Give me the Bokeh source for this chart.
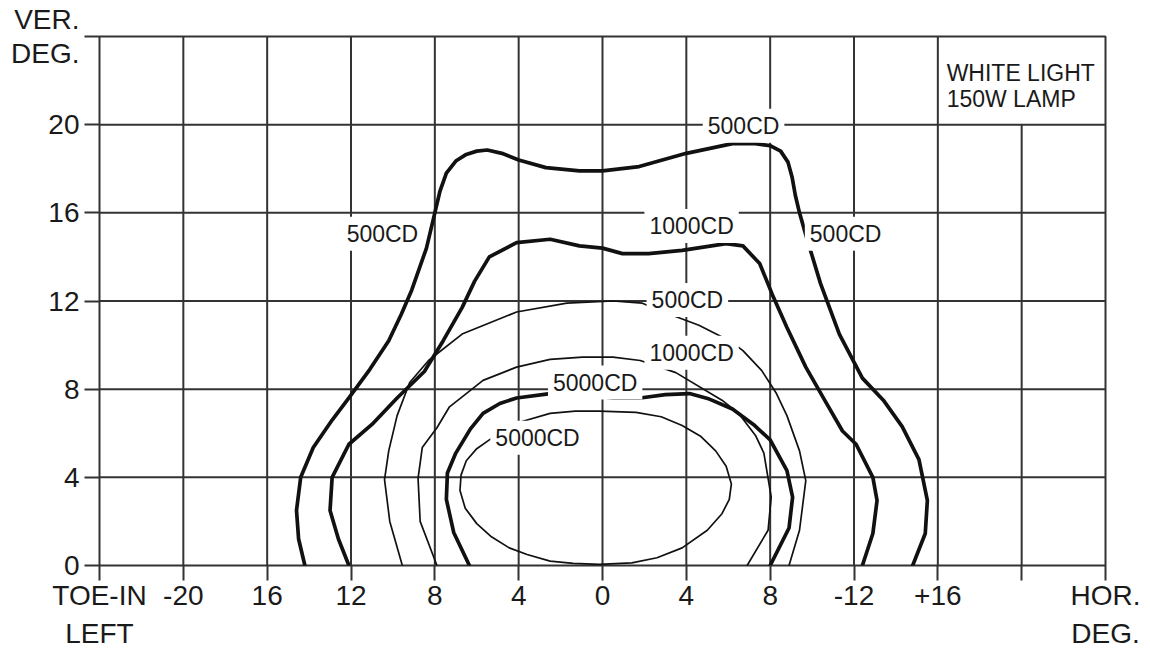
from bokeh.plotting import figure
from bokeh.models import Range1d, FixedTicker, ColumnDataSource
from bokeh.core.properties import value
from bokeh.embed import file_html
from bokeh.resources import INLINE

FONT = "Liberation Sans"
INK = "#1a1a1a"
GRID = "#333333"

# ---- axes / grid -------------------------------------------------------
grid_x = [-24, -20, -16, -12, -8, -4, 0, 4, 8, 12, 16, 20, 24]
x_tick_labels = ["TOE-IN\nLEFT", "-20", "16", "12", "8", "4", "0", "4", "8", "-12", "+16", "",
                 "HOR.\nDEG."]
grid_y = [0, 4, 8, 12, 16, 20, 24]
y_tick_labels = ["0", "4", "8", "12", "16", "20", "VER.\nDEG."]
# top of each interior vertical grid line (the note box has no divider)
vgrid_top = [24, 24, 24, 24, 24, 24, 24, 24, 24, 24, 20]

# ---- contours (horizontal deg, vertical deg) ---------------------------
outer500_x = [-14.2, -14.5, -14.6, -14.4, -13.8, -12.9, -12.1, -11.1, -10.2, -9.6, -9.1, -8.4,
              -8.0, -7.75, -7.45, -7.0, -6.5, -6.0, -5.5, -4.8, -4.0, -2.7, -1.1, 0.0, 1.75,
              4.0, 6.2, 7.2, 8.0, 8.5, 8.85, 9.05, 9.2, 9.4, 9.7, 10.4, 11.3, 12.4, 13.4, 14.3,
              15.1, 15.5, 15.4, 14.8]
outer500_y = [0.0, 1.2, 2.5, 4.0, 5.35, 6.6, 7.6, 8.9, 10.2, 11.4, 12.5, 14.4,
              16.0, 17.0, 17.8, 18.35, 18.65, 18.8, 18.85, 18.7, 18.4, 18.05, 17.9, 17.9, 18.1,
              18.7, 19.14, 19.15, 19.05, 18.8, 18.3, 17.6, 16.8, 16.0, 15.0, 12.8, 10.5, 8.5, 7.5, 6.3,
              4.8, 2.95, 1.45, 0.0]

thick1000_x = [-12.1, -12.6, -13.0, -12.9, -12.1, -11.0, -9.8, -8.5, -7.6, -6.7, -6.1, -5.4,
               -4.1, -2.5, -1.1, 0.0, 0.95, 2.2, 3.8, 5.9, 6.7, 7.5, 8.1, 8.8, 9.7, 10.6,
               11.45, 12.1, 12.9, 13.1, 12.9, 12.4]
thick1000_y = [0.0, 1.2, 2.5, 4.0, 5.5, 6.4, 7.6, 8.8, 10.2, 11.7, 12.9, 14.0,
               14.65, 14.8, 14.5, 14.4, 14.15, 14.15, 14.3, 14.6, 14.5, 13.7, 12.3, 10.8, 9.0, 7.5,
               6.1, 5.5, 4.0, 2.95, 1.45, 0.0]

thin500_x = [-9.55, -10.15, -10.4, -10.2, -9.8, -9.2, -8.3, -6.7, -4.1, -1.7, 0.5, 1.9, 3.2,
             4.6, 6.06, 6.7, 7.6, 8.3, 8.8, 9.4, 9.7, 9.4, 8.9]
thin500_y = [0.0, 2.0, 3.9, 5.2, 6.8, 8.3, 9.3, 10.5, 11.5, 11.9, 12.0, 11.9, 11.4,
             10.9, 10.2, 9.75, 8.84, 7.8, 6.8, 5.2, 3.85, 1.6, 0.0]

thin1000_x = [-7.9, -8.7, -8.8, -8.6, -7.9, -7.3, -5.7, -4.1, -2.5, -0.95, 0.5, 1.8,
              3.5, 5.7, 6.5, 7.3, 7.7, 8.05, 7.9, 6.9]
thin1000_y = [0.0, 2.0, 3.95, 5.35, 6.25, 7.2, 8.4, 9.0, 9.35, 9.45, 9.45, 9.3,
              8.75, 7.5, 6.9, 5.9, 5.1, 3.1, 1.6, 0.0]

thick5000_x = [-6.35, -7.1, -7.45, -7.4, -7.0, -6.3, -5.7, -4.9, -4.1, -2.5, -1.0, 0.5,
               1.8, 3.0, 4.15, 5.1, 6.2, 7.2, 8.0, 8.8, 9.07, 8.9, 8.0]
thick5000_y = [0.0, 1.5, 3.0, 4.2, 5.1, 6.2, 6.9, 7.35, 7.6, 7.8, 7.75, 7.6,
               7.6, 7.75, 7.8, 7.55, 7.1, 6.4, 5.7, 4.3, 3.1, 1.7, 0.0]

thin5000_x = [-0.15, 1.6, 2.8, 3.8, 4.7, 5.4, 5.9, 6.15, 6.05, 5.7, 5.0, 3.8, 2.6, 1.4,
              -0.15, -1.4, -2.5, -3.6, -4.45, -5.3, -6.0, -6.55, -6.8, -6.75, -6.5, -6.0,
              -5.4, -4.7, -3.96, -2.5, -1.3, -0.15]
thin5000_y = [7.0, 6.95, 6.75, 6.35, 5.85, 5.2, 4.5, 3.7, 3.0, 2.35, 1.6, 0.8, 0.35, 0.12,
              0.05, 0.1, 0.2, 0.5, 0.8, 1.3, 1.9, 2.6, 3.4, 4.1, 4.75, 5.3,
              5.7, 6.1, 6.5, 6.9, 7.0, 7.0]

# ---- contour labels ----------------------------------------------------
label_text = ["500CD", "500CD", "500CD", "1000CD", "500CD", "1000CD", "5000CD", "5000CD"]
label_x = [-10.5, 11.6, 6.73, 4.25, 4.05, 4.25, -0.35, -3.1]
label_y = [15.05, 15.05, 19.95, 15.4, 12.05, 9.65, 8.3, 5.8]

note_lines = ["WHITE LIGHT", "150W LAMP"]
note_x = [16.42, 16.42]
note_y = [22.36, 21.18]

# ------------------------------------------------------------------------
p = figure(width=1142, height=652, x_range=Range1d(-24, 24), y_range=Range1d(0, 24),
           output_backend="svg", toolbar_location=None,
           min_border_left=99, min_border_right=37, min_border_top=36, min_border_bottom=87)
p.xgrid.visible = False
p.ygrid.visible = False
p.outline_line_color = GRID
p.outline_line_width = 2
p.background_fill_color = "white"
p.border_fill_color = "white"

for ax, ticks, labs, standoff, lh in ((p.xaxis[0], grid_x, x_tick_labels, -1, 1.245),
                                      (p.yaxis[0], grid_y, y_tick_labels, 5, 1.08)):
    ax.ticker = FixedTicker(ticks=ticks)
    ax.major_label_overrides = {t: l for t, l in zip(ticks, labs)}
    ax.axis_line_color = None
    ax.major_tick_line_color = GRID
    ax.major_tick_line_width = 2
    ax.major_tick_out = 15
    ax.major_tick_in = 0
    ax.minor_tick_line_color = None
    ax.major_label_text_font = FONT
    ax.major_label_text_font_size = "28px"
    ax.major_label_text_color = INK
    ax.major_label_text_line_height = lh
    ax.major_label_standoff = standoff

# grid lines
inner_x = grid_x[1:-1]
p.segment(x0=inner_x, y0=[grid_y[0]] * len(inner_x), x1=inner_x, y1=vgrid_top,
          line_color=GRID, line_width=2)
inner_y = grid_y[1:-1]
p.segment(x0=[grid_x[0]] * len(inner_y), y0=inner_y, x1=[grid_x[-1]] * len(inner_y), y1=inner_y,
          line_color=GRID, line_width=2)

# contours
for xs, ys, w in ((outer500_x, outer500_y, 3.7), (thick1000_x, thick1000_y, 3.7),
                  (thick5000_x, thick5000_y, 3.7), (thin500_x, thin500_y, 1.7),
                  (thin1000_x, thin1000_y, 1.7), (thin5000_x, thin5000_y, 1.7)):
    p.line(xs, ys, line_color="#111111", line_width=w, line_join="round", line_cap="round")

# contour labels with white backing
char_w = {"C": 0.722, "D": 0.722}
box_w = [sum(char_w.get(c, 0.556) for c in t) * 23 + 10 for t in label_text]
src = ColumnDataSource(dict(x=label_x, y=label_y, text=label_text, w=box_w))
p.rect(x="x", y="y", width="w", height=34, width_units="screen", height_units="screen",
       fill_color="white", line_color=None, source=src)
p.text(x="x", y="y", text="text", source=src, text_align="center", text_baseline="middle",
       text_font=value(FONT), text_font_size=value("23px"), text_color=INK)

p.text(x=note_x, y=note_y, text=note_lines, text_align="left", text_baseline="alphabetic",
       text_font=value(FONT), text_font_size=value("23px"), text_color=INK)

open("out.html", "w").write(file_html(p, INLINE))
